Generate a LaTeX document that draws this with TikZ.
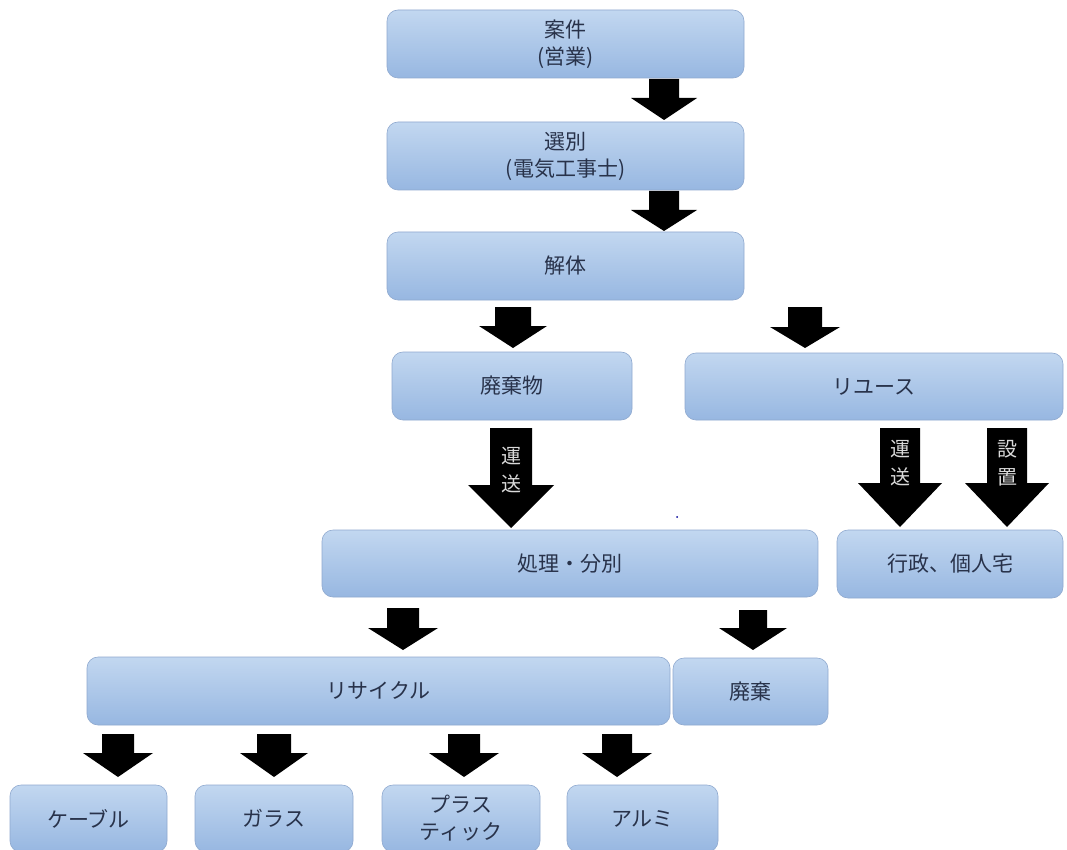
\documentclass[tikz,border=0pt]{standalone}
\usepackage{fontspec}
\newfontfamily\jp{Noto Sans CJK JP}
\begin{document}
\begin{tikzpicture}[x=1pt,y=-1pt,
  flowbox/.style={draw=boxedge, line width=0.6pt, rounded corners=11pt,
    top color=boxtop, bottom color=boxbottom, shading angle=0,
    text=boxtext, font=\jp\fontsize{21}{27}\selectfont, align=center,
    inner sep=0pt},
  arrowtext/.style={text=arrowlabel, font=\jp\fontsize{20}{28}\selectfont,
    align=center, inner sep=0pt}]
\definecolor{boxtop}{HTML}{C2D7F0}
\definecolor{boxbottom}{HTML}{97B7E1}
\definecolor{boxedge}{HTML}{8FA9CF}
\definecolor{boxtext}{HTML}{28324A}
\definecolor{arrowlabel}{HTML}{DADADA}
\useasboundingbox (0,0) rectangle (1067,850);
\clip (0,0) rectangle (1067,850);
\fill[white] (0,0) rectangle (1067,850);

% box: #1 name, #2 left, #3 top, #4 right, #5 bottom, #6 text
\newcommand\flowbox[6]{%
  \node[flowbox, minimum width={#4-#2}, minimum height={#5-#3}]
    (#1) at ({(#2+#4)/2},{(#3+#5)/2}) {#6};}
% block arrow: #1 name, #2 centre x, #3 top, #4 head start, #5 tip, #6 half shaft, #7 half head
\newcommand\blockarrow[7]{%
  \fill[black] (#2-#6,#3) -- (#2+#6,#3) -- (#2+#6,#4) -- (#2+#7,#4)
    -- (#2,#5) -- (#2-#7,#4) -- (#2-#6,#4) -- cycle;
  \coordinate (#1) at (#2,#5);}

% boxes
\flowbox{case}{387}{10}{744}{78}{案件\\(営業)}
\flowbox{sort}{387}{122}{744}{190}{選別\\(電気工事士)}
\flowbox{dismantle}{387}{232}{744}{300}{解体}
\flowbox{waste}{392}{352}{632}{420}{廃棄物}
\flowbox{reuse}{685}{353}{1063}{420}{リユース}
\flowbox{process}{322}{530}{818}{597}{処理・分別}
\flowbox{homes}{837}{530}{1063}{598}{行政、個人宅}
\flowbox{recycle}{87}{657}{670}{725}{リサイクル}
\flowbox{disposal}{673}{658}{828}{725}{廃棄}
\flowbox{cable}{10}{785}{167}{852}{ケーブル}
\flowbox{glass}{195}{785}{353}{852}{ガラス}
\flowbox{plastic}{382}{785}{540}{852}{プラス\\ティック}
\flowbox{alu}{567}{785}{718}{852}{アルミ}

% arrows between boxes
\blockarrow{a1}{664}{79}{98}{120}{15}{33}
\blockarrow{a2}{664}{191}{210}{231}{15}{33}
\blockarrow{a3}{513}{307}{326}{348}{18}{34}
\blockarrow{a4}{805}{307}{327}{348}{17}{35}
\blockarrow{t1}{511}{428}{485}{528}{21}{43}
\blockarrow{t2}{900}{428}{483}{527}{20}{42}
\blockarrow{t3}{1007}{428}{483}{527}{20}{42}
\blockarrow{a5}{403}{608}{628}{650}{16}{35}
\blockarrow{a6}{753}{610}{628}{650}{14}{34}
\blockarrow{b1}{118}{734}{753}{777}{16}{35}
\blockarrow{b2}{274}{734}{753}{777}{17}{34}
\blockarrow{b3}{464}{734}{753}{777}{16}{35}
\blockarrow{b4}{617}{734}{753}{777}{15}{35}

% labels on the transport arrows
\node[arrowtext] (t1label) at (511,470) {運\\送};
\node[arrowtext] (t2label) at (900,463) {運\\送};
\node[arrowtext] (t3label) at (1007,463) {設\\置};

\fill[blue!60!black] (677,517) circle (1);
\end{tikzpicture}
\end{document}
